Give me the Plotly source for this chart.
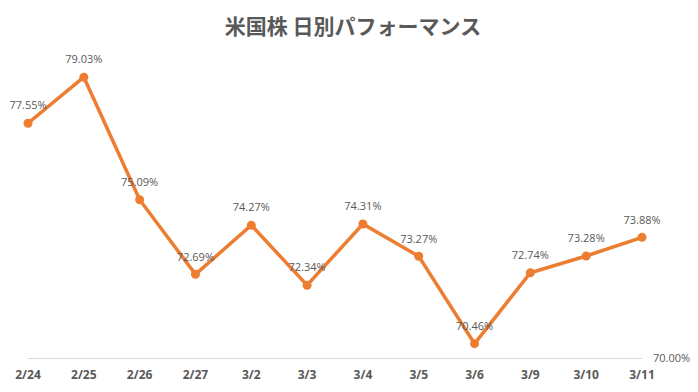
import plotly.graph_objects as go

dates = ["2/24", "2/25", "2/26", "2/27", "3/2", "3/3", "3/4", "3/5", "3/6", "3/9", "3/10", "3/11"]
values = [77.55, 79.03, 75.09, 72.69, 74.27, 72.34, 74.31, 73.27, 70.46, 72.74, 73.28, 73.88]
labels = [f"{v:.2f}%" for v in values]

xs = list(range(len(dates)))

fig = go.Figure()
fig.add_trace(go.Scatter(
    x=xs, y=values,
    mode="lines+markers",
    line=dict(color="#ED7D31", width=3.5),
    marker=dict(color="#ED7D31", size=9),
    cliponaxis=False, showlegend=False, hoverinfo="skip",
))
# data labels (invisible larger markers give a bit more gap above each point)
fig.add_trace(go.Scatter(
    x=xs, y=values,
    mode="markers+text",
    marker=dict(color="rgba(0,0,0,0)", size=16),
    text=labels, textposition="top center",
    textfont=dict(family="Open Sans", size=11, color="#595959"),
    cliponaxis=False, showlegend=False,
))

# page body has an 8px default margin, so the figure is 690x384 and offset accordingly
fig.update_layout(
    width=690, height=384,
    margin=dict(l=20, r=56, t=39, b=34, autoexpand=False),
    paper_bgcolor="white", plot_bgcolor="white",
    title=dict(text="<b>米国株 日別パフォーマンス</b>", x=0.5, xanchor="center", y=1 - 19 / 384, yanchor="middle",
               font=dict(family="Noto Sans CJK JP", size=21, color="#595959")),
    xaxis=dict(
        range=[0, len(dates) - 1], automargin=False,
        tickvals=xs, ticktext=[f"<b>{d}</b>" for d in dates],
        tickfont=dict(family="Open Sans", size=12, color="#595959"),
        showgrid=False, zeroline=False, showline=True, linecolor="#D9D9D9", linewidth=1,
        ticks="", ticklabelstandoff=6,
    ),
    yaxis=dict(
        range=[70, 80], side="right", automargin=False,
        tickvals=[70], ticktext=["70.00%"],
        tickfont=dict(family="Open Sans", size=11, color="#595959"),
        showgrid=False, zeroline=False, showline=False, ticks="", ticklabelstandoff=10,
    ),
)

fig.write_html("out.html")
